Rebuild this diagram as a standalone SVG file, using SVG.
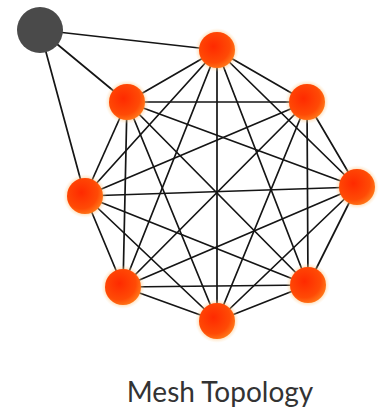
<svg xmlns="http://www.w3.org/2000/svg" width="381" height="412" viewBox="0 0 381 412">
<defs>
<radialGradient id="og" cx="0.4" cy="0.4" r="0.65">
<stop offset="0" stop-color="#ff2a00"/>
<stop offset="0.7" stop-color="#ff4a05"/>
<stop offset="1" stop-color="#ff7a1a"/>
</radialGradient>
<radialGradient id="glow" cx="0.5" cy="0.5" r="0.5">
<stop offset="0.75" stop-color="#ffb060" stop-opacity="0.6"/>
<stop offset="1" stop-color="#ffe0b0" stop-opacity="0"/>
</radialGradient>
<style>
.e{stroke:#151515;stroke-width:1.7;fill:none}
.n{fill:url(#og)}
.g{fill:url(#glow)}
.lbl{font-family:Lato,"Open Sans",sans-serif;font-size:28px;fill:#333}
</style>
</defs>
<rect width="381" height="412" fill="#fff"/>
<g id="connectors">
<path class="e" d="M40 30L217 50M40 30L127 102M40 30L85 196"/>
<path class="e" d="M217 50L307 102M217 50L357 187M217 50L308 285M217 50L217 321M217 50L123 287M217 50L85 196M217 50L127 102"/>
<path class="e" d="M307 102L357 187M307 102L308 285M307 102L217 321M307 102L123 287M307 102L85 196M307 102L127 102"/>
<path class="e" d="M357 187L308 285M357 187L217 321M357 187L123 287M357 187L85 196M357 187L127 102"/>
<path class="e" d="M308 285L217 321M308 285L123 287M308 285L85 196M308 285L127 102"/>
<path class="e" d="M217 321L123 287M217 321L85 196M217 321L127 102"/>
<path class="e" d="M123 287L85 196M123 287L127 102"/>
<path class="e" d="M85 196L127 102"/>
</g>
<g id="gray"><circle cx="40" cy="30" r="23" fill="#4a4a4a"/></g>
<g id="n-top"><circle class="g" cx="217" cy="50" r="22"/><circle class="n" cx="217" cy="50" r="18"/></g>
<g id="n-ur"><circle class="g" cx="307" cy="102" r="22"/><circle class="n" cx="307" cy="102" r="18"/></g>
<g id="n-r"><circle class="g" cx="357" cy="187" r="22"/><circle class="n" cx="357" cy="187" r="18"/></g>
<g id="n-lr"><circle class="g" cx="308" cy="285" r="22"/><circle class="n" cx="308" cy="285" r="18"/></g>
<g id="n-b"><circle class="g" cx="217" cy="321" r="22"/><circle class="n" cx="217" cy="321" r="18"/></g>
<g id="n-ll"><circle class="g" cx="123" cy="287" r="22"/><circle class="n" cx="123" cy="287" r="18"/></g>
<g id="n-l"><circle class="g" cx="85" cy="196" r="22"/><circle class="n" cx="85" cy="196" r="18"/></g>
<g id="n-ul"><circle class="g" cx="127" cy="102" r="22"/><circle class="n" cx="127" cy="102" r="18"/></g>
<text class="lbl" x="220" y="402" text-anchor="middle">Mesh Topology</text>
</svg>
